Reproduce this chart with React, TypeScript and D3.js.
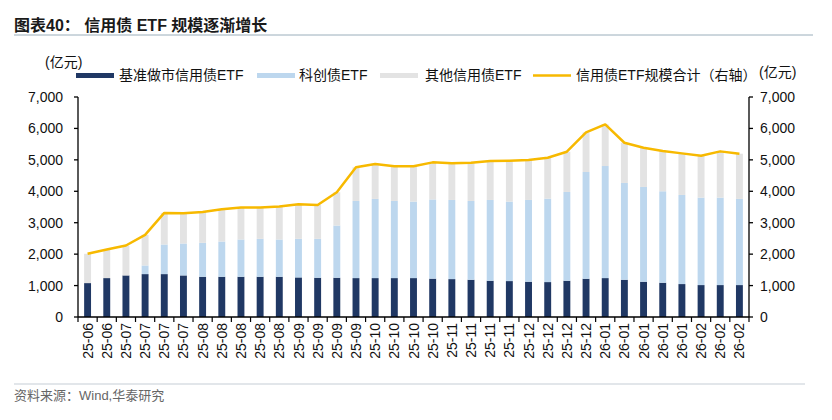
import React from 'react';
import * as d3 from 'd3';

// x categories (weekly snapshots)
const dates = [
  '25-06', '25-06', '25-07', '25-07', '25-07', '25-07', '25-08', '25-08', '25-08', '25-08', '25-08',
  '25-09', '25-09', '25-09', '25-09', '25-10', '25-10', '25-10', '25-10', '25-11', '25-11', '25-11',
  '25-11', '25-12', '25-12', '25-12', '25-12', '26-01', '26-01', '26-01', '26-01', '26-01', '26-02',
  '26-02', '26-02',
];

// 亿元
const benchmark = [
  1079, 1238, 1323, 1365, 1365, 1323, 1280, 1280, 1280, 1280, 1280, 1259, 1249, 1249, 1238, 1238, 1238, 1238,
  1220, 1206, 1185, 1153, 1143, 1122, 1111, 1153, 1217, 1238, 1185, 1122, 1090, 1048, 1016, 1016, 1016,
];
const sciTech = [
  0, 0, 0, 275, 942, 1016, 1080, 1122, 1186, 1207, 1186, 1228, 1238, 1661, 2455, 2519, 2455, 2434,
  2520, 2519, 2508, 2572, 2529, 2603, 2656, 2826, 3397, 3566, 3080, 3016, 2910, 2836, 2783, 2783, 2741,
];
const otherCredit = [
  932, 910, 952, 974, 1005, 963, 984, 1027, 1015, 994, 1047, 1100, 1079, 1058, 1069, 1111, 1101, 1122,
  1180, 1164, 1217, 1238, 1302, 1270, 1302, 1280, 1259, 1323, 1280, 1248, 1280, 1322, 1333, 1471, 1439,
];

const yTicks = [0, 1000, 2000, 3000, 4000, 5000, 6000, 7000];

const seriesKeys = ['benchmark', 'sciTech', 'other'];
const seriesNames = ['基准做市信用债ETF', '科创债ETF', '其他信用债ETF'];
const colors = ['#203864', '#bdd7ee', '#e3e3e3'];
const lineColor = '#f7b900';

const W = 832;
const H = 420;
const left = 78;
const right = 749;
const top = 97;
const bottom = 317;
const font = '"Liberation Sans", Arial, "Noto Sans CJK SC", sans-serif';

export default function App() {
  const rows = dates.map((d, i) => ({
    idx: i,
    benchmark: benchmark[i],
    sciTech: sciTech[i],
    other: otherCredit[i],
  }));
  const totals = rows.map(r => r.benchmark + r.sciTech + r.other);

  const x = d3.scaleBand<number>()
    .domain(rows.map(r => r.idx))
    .range([left, right])
    .paddingInner(0.64)
    .paddingOuter(0.32);
  const y = d3.scaleLinear().domain([0, 7000]).range([bottom, top]);
  const yRight = d3.scaleLinear().domain([0, 7000]).range([bottom, top]);

  const stacked = d3.stack<any>().keys(seriesKeys)(rows);

  const line = d3.line<number>()
    .x((_, i) => (x(i) as number) + x.bandwidth() / 2)
    .y(d => yRight(d));

  const fmt = d3.format(',');
  const step = x.step();

  // legend layout
  const legend = [
    { x: 76, tx: 119, label: seriesNames[0], color: colors[0] },
    { x: 257, tx: 299, label: seriesNames[1], color: colors[1] },
    { x: 380, tx: 425, label: seriesNames[2], color: colors[2] },
  ];

  return (
    <svg width={W} height={H} style={{ position: 'absolute', left: 0, top: 0, background: '#fff' }} fontFamily={font}>
      {/* title */}
      <text x={14} y={31} fontSize={16} fontWeight="bold" fill="#1a1a1a">
        图表40：  信用债 ETF 规模逐渐增长
      </text>
      <line x1={14} x2={813} y1={35} y2={35} stroke="#9aaebb" strokeWidth={1} />

      {/* units */}
      <text x={45} y={67} fontSize={14} fill="#111">(亿元)</text>
      <text x={759} y={77} fontSize={14} fill="#111">(亿元)</text>

      {/* legend */}
      {legend.map((l, i) => (
        <g key={i}>
          <rect x={l.x} y={73} width={38} height={5} fill={l.color} />
          <text x={l.tx} y={80} fontSize={14} fill="#111">{l.label}</text>
        </g>
      ))}
      <line x1={533} x2={571} y1={75.5} y2={75.5} stroke={lineColor} strokeWidth={2.5} />
      <text x={576} y={80} fontSize={14} fill="#111">信用债ETF规模合计（右轴）</text>

      {/* bars */}
      {stacked.map((s, si) => (
        <g key={si} fill={colors[si]}>
          {s.map((d, i) => (
            <rect
              key={i}
              x={x(i)}
              y={y(d[1])}
              width={x.bandwidth()}
              height={Math.max(0, y(d[0]) - y(d[1]))}
            />
          ))}
        </g>
      ))}

      {/* total line */}
      <path d={line(totals) || ''} fill="none" stroke={lineColor} strokeWidth={2.5} strokeLinejoin="round" />

      {/* left axis */}
      <line x1={left} x2={left} y1={top} y2={bottom} stroke="#000" strokeWidth={1.3} />
      {yTicks.map(t => (
        <g key={t}>
          <line x1={left - 4} x2={left} y1={y(t)} y2={y(t)} stroke="#000" strokeWidth={1.3} />
          <text x={63} y={y(t)} dy="0.36em" textAnchor="end" fontSize={14} fill="#111">{fmt(t)}</text>
        </g>
      ))}

      {/* right axis */}
      <line x1={right} x2={right} y1={top} y2={bottom} stroke="#000" strokeWidth={1.3} />
      {yTicks.map(t => (
        <g key={t}>
          <line x1={right} x2={right + 4} y1={yRight(t)} y2={yRight(t)} stroke="#000" strokeWidth={1.3} />
          <text x={760} y={yRight(t)} dy="0.36em" fontSize={14} fill="#111">{fmt(t)}</text>
        </g>
      ))}

      {/* bottom axis */}
      <line x1={left} x2={right} y1={bottom} y2={bottom} stroke="#000" strokeWidth={1.3} />
      {d3.range(dates.length + 1).map(i => (
        <line key={i} x1={left + i * step} x2={left + i * step} y1={bottom} y2={bottom + 5} stroke="#000" strokeWidth={1.2} />
      ))}
      {dates.map((d, i) => (
        <text
          key={i}
          transform={`translate(${(x(i) as number) + x.bandwidth() / 2},${bottom + 6}) rotate(-90)`}
          dy="0.36em"
          textAnchor="end"
          fontSize={14}
          fill="#111"
        >
          {d}
        </text>
      ))}

      {/* footer */}
      <line x1={14} x2={805} y1={384} y2={384} stroke="#c5ced6" strokeWidth={1.2} />
      <text x={14} y={400} fontSize={13} fill="#666">资料来源：Wind,华泰研究</text>
    </svg>
  );
}
